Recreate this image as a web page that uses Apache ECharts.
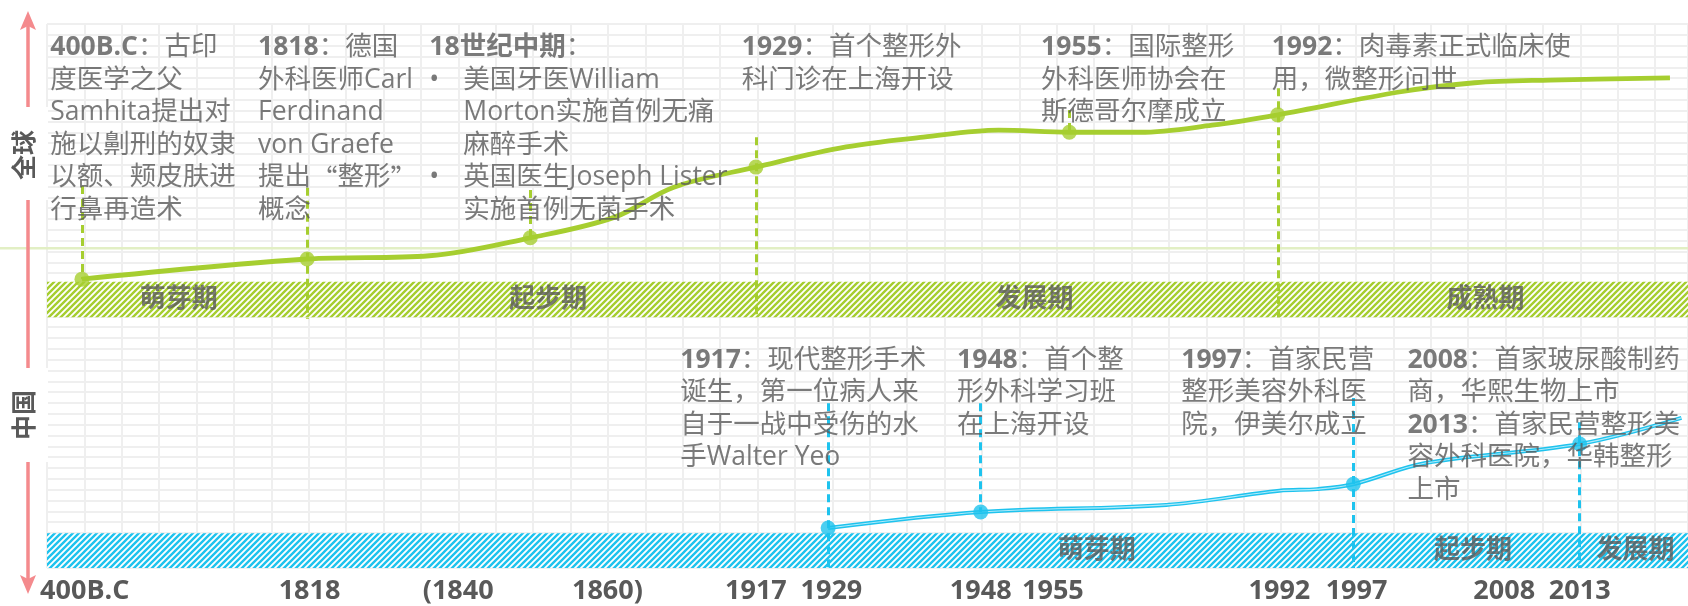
<!DOCTYPE html>
<html><head><meta charset="utf-8">
<script src="https://cdn.jsdelivr.net/npm/echarts@6/dist/echarts.min.js"></script>
<style>html,body{margin:0;padding:0;background:#fff}#c{width:1688px;height:606px}</style>
</head><body><div id="c"></div>
<script>
// ---------- DATA (timeline position 0-100 along the axis, level 0-100) ----------
const tickLabels = ['400B.C','1818','(1840','1860)','1917','1929','1948','1955','1992','1997','2008','2013'];
const tickPos    = [2.3, 16.0, 25.06, 34.15, 43.2, 47.8, 56.9, 61.3, 75.1, 79.8, 88.8, 93.4];

// 全球 curve
const globalCurvePos   = [2.13, 15.85, 23.3, 29.45, 34.6, 38.2, 43.2, 48.7, 53.4, 58.0, 62.3, 66.6, 71.0, 75.0, 82.4, 87.0, 91.6, 98.9];
const globalCurveLevel = [53.1, 56.8, 57.4, 60.7, 64.5, 70.0, 73.7, 77.4, 79.2, 80.5, 80.1, 80.1, 81.4, 83.3, 87.5, 89.2, 89.7, 90.1];
const globalEventPos   = [2.13, 15.85, 29.45, 43.2, 62.3, 75.0];
const globalEventLevel = [53.1, 56.8, 60.7, 73.7, 80.1, 83.3];
const globalDropTop    = [70.2, 69.9, 69.5, 79.2, 84.2, 88.2];
const globalDropBottom = [53.1, 45.8, 60.7, 45.8, 80.1, 45.8];
const globalBand       = [46.1, 52.6];
const globalBaseline   = 58.8;
const globalPhases     = ['萌芽期','起步期','发展期','成熟期'];
const globalPhasePos   = [8.03, 30.55, 60.18, 87.66];
const globalPhaseLevel = 49.3;
const globalNotes = [
  '400B.C：古印\n度医学之父\nSamhita提出对\n施以劓刑的奴隶\n以额、颊皮肤进\n行鼻再造术',
  '1818：德国\n外科医师Carl\nFerdinand\nvon Graefe\n提出“整形”\n概念',
  '18世纪中期：\n• 美国牙医William\n  Morton实施首例无痛\n  麻醉手术\n• 英国医生Joseph Lister\n  实施首例无菌手术',
  '1929：首个整形外\n科门诊在上海开设',
  '1955：国际整形\n外科医师协会在\n斯德哥尔摩成立',
  '1992：肉毒素正式临床使\n用，微整形问世'
];
const globalNotePos   = [0.23, 12.89, 23.33, 42.37, 60.61, 74.66];
const globalNoteLevel = 98.5;

// 中国 curve
const chinaCurvePos   = [47.6, 56.9, 68.2, 75.1, 77.4, 79.6, 84.0, 93.4, 99.6];
const chinaCurveLevel = [7.35, 10.3, 11.6, 14.2, 14.5, 15.4, 19.3, 22.8, 27.6];
const chinaEventPos   = [47.6, 56.9, 79.6, 93.4];
const chinaEventLevel = [7.35, 10.3, 15.4, 22.8];
const chinaDropTop    = [30.3, 30.3, 31.25, 26.8];
const chinaDropBottom = [0, 10.3, 0, 0];
const chinaBand       = [0, 6.4];
const chinaPhases     = ['萌芽期','起步期','发展期'];
const chinaPhasePos   = [63.97, 86.9, 96.8];
const chinaPhaseLevel = 3.2;
const chinaNotes = [
  '1917：现代整形手术\n诞生，第一位病人来\n自于一战中受伤的水\n手Walter Yeo',
  '1948：首个整\n形外科学习班\n在上海开设',
  '1997：首家民营\n整形美容外科医\n院，伊美尔成立',
  '2008：首家玻尿酸制药\n商，华熙生物上市\n2013：首家民营整形美\n容外科医院，华韩整形\n上市'
];
const chinaNotePos   = [38.62, 55.49, 69.15, 82.93];
const chinaNoteLevel = 41.1;

// ---------- STYLE ----------
const FONT = "'Open Sans','Noto Sans CJK SC',sans-serif";
const CJK = "'Noto Sans CJK SC',sans-serif";
const G = '#a6ce30', B = '#1ec3ee', TXT = '#595959', GRIDC = '#efefef';

function stripes(color){
  const c = document.createElement('canvas'); c.width = 6; c.height = 6;
  const ctx = c.getContext('2d');
  ctx.fillStyle = '#fff'; ctx.fillRect(0,0,6,6);
  ctx.strokeStyle = color; ctx.lineWidth = 2.4;
  ctx.beginPath();
  ctx.moveTo(-1,7); ctx.lineTo(7,-1);
  ctx.moveTo(-4,4); ctx.lineTo(4,-4);
  ctx.moveTo(2,10); ctx.lineTo(10,2);
  ctx.stroke();
  return {image: c, repeat: 'repeat'};
}

function quotes(s, style){
  return s.replace(/[“”]/g, ch => '}{q|' + ch + '}{' + style + '|');
}
function richNote(text){
  return text.split('\n').map(line => {
    let m;
    if (line.startsWith('• ')) return '{bul|•}{n|' + quotes(line.slice(2), 'n') + '}';
    if (line.startsWith('  ')) return '{ind|' + quotes(line.slice(2), 'n') + '}';
    if ((m = line.match(/^([^：]+)：(.*)$/))) return '{b|' + m[1] + '}{n|：' + quotes(m[2], 'n') + '}';
    return '{n|' + quotes(line, 'n') + '}';
  }).join('\n');
}
const base = {fontSize: 26.5, color: TXT, lineHeight: 32.5, fontFamily: FONT};
const noteRich = {
  n:   Object.assign({}, base),
  b:   Object.assign({}, base, {fontWeight: 'bold'}),
  q:   Object.assign({}, base, {fontFamily: CJK}),
  bul: Object.assign({}, base, {width: 34}),
  ind: Object.assign({}, base, {padding: [0,0,0,34]})
};

function pairs(xs, ys){ return xs.map((x,i) => [x, ys[i]]); }
function drops(xs, tops, bottoms){ return xs.map((x,i) => [{coord:[x, tops[i]]}, {coord:[x, bottoms[i]]}]); }

function noteSeries(texts, xs, level){
  return {
    type: 'scatter', z: 10, silent: true, symbolSize: 1,
    itemStyle: {color: 'rgba(0,0,0,0)'},
    data: xs.map((x,i) => ({value: [x, level], text: texts[i]})),
    label: {
      show: true, position: [0, 0], align: 'left', verticalAlign: 'top',
      formatter: p => richNote(p.data.text), rich: noteRich
    }
  };
}
function phaseSeries(names, xs, level){
  return {
    type: 'scatter', z: 6, silent: true, symbolSize: 1,
    itemStyle: {color: 'rgba(0,0,0,0)'},
    data: xs.map((x,i) => ({name: names[i], value: [x, level]})),
    label: {show: true, position: 'inside', formatter: '{b}', color: TXT,
            fontSize: 26, fontWeight: 'bold', fontFamily: FONT}
  };
}

const chart = echarts.init(document.getElementById('c'));
const option = {
  animation: false,
  backgroundColor: '#fff',
  grid: {left: 47, right: 0, top: 24, bottom: 38},
  xAxis: [
    {type: 'value', min: 0, max: 100,
     axisLine: {show: false}, axisTick: {show: false}, splitLine: {show: false},
     axisLabel: {customValues: tickPos, formatter: v => tickLabels[tickPos.indexOf(v)],
                 fontSize: 27, fontWeight: 'bold', color: TXT, fontFamily: FONT, margin: 10}},
    {type: 'value', min: 0, max: 43.88, interval: 1, position: 'top',
     axisLine: {show: false}, axisTick: {show: false}, axisLabel: {show: false},
     splitLine: {show: true, lineStyle: {color: GRIDC, width: 2}}}
  ],
  yAxis: [
    {type: 'value', min: 0, max: 100, show: false},
    {type: 'value', min: 0, max: 50.23, interval: 1, inverse: true,
     axisLine: {show: false}, axisTick: {show: false}, axisLabel: {show: false},
     splitLine: {show: true, lineStyle: {color: GRIDC, width: 2}}}
  ],
  series: [
    // phase bands
    {type: 'line', data: [], silent: true, z: 1,
     markArea: {silent: true, data: [
       [{coord: [0, globalBand[0]], itemStyle: {color: stripes(G)}}, {coord: [100, globalBand[1]]}],
       [{coord: [0, chinaBand[0]], itemStyle: {color: stripes(B)}}, {coord: [100, chinaBand[1]]}]
     ]}},
    // global curve
    {type: 'line', name: '全球', data: pairs(globalCurvePos, globalCurveLevel), smooth: 0.35,
     showSymbol: false, silent: true, z: 4, lineStyle: {color: G, width: 4.8},
     markLine: {silent: true, symbol: ['none','none'], label: {show: false},
                lineStyle: {color: G, type: [8,5], width: 3}, data: drops(globalEventPos, globalDropTop, globalDropBottom)}},
    {type: 'scatter', data: pairs(globalEventPos, globalEventLevel), symbolSize: 15, z: 5, silent: true,
     itemStyle: {color: G}},
    // china curve
    {type: 'line', name: '中国', data: pairs(chinaCurvePos, chinaCurveLevel), smooth: 0.35,
     showSymbol: false, silent: true, z: 4, lineStyle: {color: B, width: 4},
     markLine: {silent: true, symbol: ['none','none'], label: {show: false},
                lineStyle: {color: B, type: [8,5], width: 3}, data: drops(chinaEventPos, chinaDropTop, chinaDropBottom)}},
    {type: 'line', data: pairs(chinaCurvePos, chinaCurveLevel), smooth: 0.35,
     showSymbol: false, silent: true, z: 4, lineStyle: {color: 'rgba(255,255,255,0.65)', width: 1.1}},
    {type: 'scatter', data: pairs(chinaEventPos, chinaEventLevel), symbolSize: 15, z: 5, silent: true,
     itemStyle: {color: B}},
    phaseSeries(globalPhases, globalPhasePos, globalPhaseLevel),
    phaseSeries(chinaPhases, chinaPhasePos, chinaPhaseLevel),
    noteSeries(globalNotes, globalNotePos, globalNoteLevel),
    noteSeries(chinaNotes, chinaNotePos, chinaNoteLevel)
  ]
};
chart.setOption(option);

// decorations: baseline, red double arrow, side labels
const by = chart.convertToPixel({yAxisIndex: 0}, globalBaseline);
const AX = 28, RED = '#f48a8d';
chart.setOption({
  graphic: [
    {type: 'line', z: 1, shape: {x1: 0, y1: by, x2: 1688, y2: by}, style: {stroke: '#e2efc4', lineWidth: 2.5}},
    {type: 'line', z: 20, shape: {x1: AX, y1: 24, x2: AX, y2: 580}, style: {stroke: RED, lineWidth: 3.5}},
    {type: 'polygon', z: 20, shape: {points: [[AX,11],[AX-8,30],[AX,26],[AX+8,30]]}, style: {fill: RED}},
    {type: 'polygon', z: 20, shape: {points: [[AX,594],[AX-8,575],[AX,579],[AX+8,575]]}, style: {fill: RED}},
    {type: 'rect', z: 21, shape: {x: 4, y: 107, width: 44, height: 93}, style: {fill: '#fff'}},
    {type: 'rect', z: 21, shape: {x: 4, y: 368, width: 44, height: 94}, style: {fill: '#fff'}},
    {type: 'text', z: 22, x: 23, y: 155, rotation: Math.PI/2,
     style: {text: '全球', fill: TXT, font: "bold 25px 'Noto Sans CJK SC'", align: 'center', verticalAlign: 'middle'}},
    {type: 'text', z: 22, x: 23, y: 415, rotation: Math.PI/2,
     style: {text: '中国', fill: TXT, font: "bold 25px 'Noto Sans CJK SC'", align: 'center', verticalAlign: 'middle'}}
  ]
});
</script>
</body></html>
